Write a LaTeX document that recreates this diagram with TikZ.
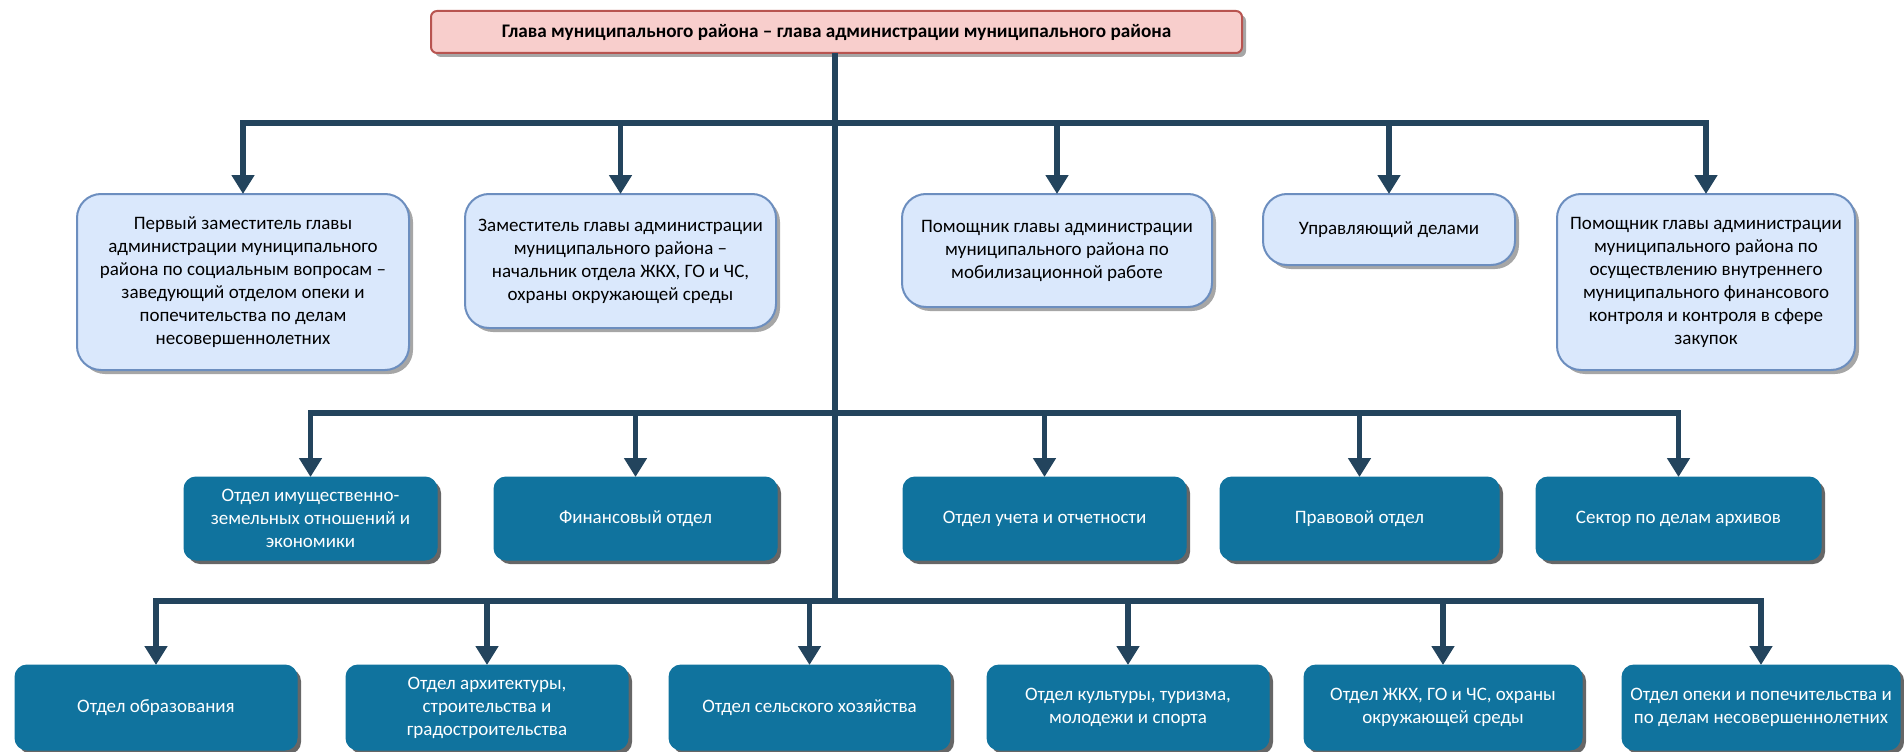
\documentclass[tikz,border=0pt]{standalone}
\usepackage{fontspec}
\setmainfont{Carlito}
\usetikzlibrary{arrows.meta,shadows}
\definecolor{conncol}{HTML}{23445D}
\definecolor{topfill}{HTML}{F8CECC}
\definecolor{topdraw}{HTML}{B85450}
\definecolor{lbfill}{HTML}{DAE8FC}
\definecolor{lbdraw}{HTML}{6C8EBF}
\definecolor{tealfill}{HTML}{10739E}
\begin{document}
\begin{tikzpicture}[x=1pt,y=-1pt,
  box/.style={rectangle, outer sep=0pt, inner sep=0pt, align=center,
    font=\fontsize{19}{23}\selectfont},
  topbox/.style={box, rounded corners=6pt, fill=topfill, draw=topdraw, line width=2pt,
    font=\fontsize{19.2}{23}\selectfont\bfseries,
    drop shadow={shadow xshift=4pt, shadow yshift=-4pt, fill=black, opacity=.35}},
  lbox/.style={box, rounded corners=24pt, fill=lbfill, draw=lbdraw, line width=2pt,
    drop shadow={shadow xshift=4pt, shadow yshift=-4pt, fill=black, opacity=.35}},
  tbox/.style={box, rounded corners=12pt, fill=tealfill, draw=tealfill, line width=1pt,
    text=white,
    drop shadow={shadow xshift=4pt, shadow yshift=-4pt, fill=black, opacity=.6}},
  conn/.style={draw=conncol, line width=5.5pt},
  bus/.style={conn, line cap=rect},
  arr/.style={conn, -{Triangle[width=22pt,length=19pt]}}
]
\useasboundingbox (0,0) rectangle (1904,752);

% top
\node[topbox, minimum width=811pt, minimum height=42pt] (top) at (836.5,32)
  {Глава муниципального района – глава администрации муниципального района};

% level 1
\node[lbox, minimum width=332pt, minimum height=176pt] (b1) at (243,282)
  {Первый заместитель главы\\администрации муниципального\\района по социальным вопросам –\\заведующий отделом опеки и\\попечительства по делам\\несовершеннолетних};
\node[lbox, minimum width=311pt, minimum height=134pt] (b2) at (620.5,261)
  {Заместитель главы администрации\\муниципального района –\\начальник отдела ЖКХ, ГО и ЧС,\\охраны окружающей среды};
\node[lbox, minimum width=310pt, minimum height=113pt] (b3) at (1057,250.5)
  {Помощник главы администрации\\муниципального района по\\мобилизационной работе};
\node[lbox, minimum width=252pt, minimum height=71pt] (b4) at (1389,229.5)
  {Управляющий делами};
\node[lbox, minimum width=298pt, minimum height=176pt] (b5) at (1706,282)
  {Помощник главы администрации\\муниципального района по\\осуществлению внутреннего\\муниципального финансового\\контроля и контроля в сфере\\закупок};

% level 2
\node[tbox, minimum width=253pt, minimum height=83pt] (c1) at (310.5,518.5)
  {Отдел имущественно-\\земельных отношений и\\экономики};
\node[tbox, minimum width=283pt, minimum height=83pt] (c2) at (635.5,518.5)
  {Финансовый отдел};
\node[tbox, minimum width=283pt, minimum height=83pt] (c3) at (1044.5,518.5)
  {Отдел учета и отчетности};
\node[tbox, minimum width=279pt, minimum height=83pt] (c4) at (1359.5,518.5)
  {Правовой отдел};
\node[tbox, minimum width=285pt, minimum height=83pt] (c5) at (1678.5,518.5)
  {Сектор по делам архивов};

% level 3
\node[tbox, minimum width=282pt, minimum height=85pt] (d1) at (156,707.5)
  {Отдел образования};
\node[tbox, minimum width=282pt, minimum height=85pt] (d2) at (487,707.5)
  {Отдел архитектуры,\\строительства и\\градостроительства};
\node[tbox, minimum width=281pt, minimum height=85pt] (d3) at (809.5,707.5)
  {Отдел сельского хозяйства};
\node[tbox, minimum width=282pt, minimum height=85pt] (d4) at (1128,707.5)
  {Отдел культуры, туризма,\\молодежи и спорта};
\node[tbox, minimum width=278pt, minimum height=85pt] (d5) at (1443,707.5)
  {Отдел ЖКХ, ГО и ЧС, охраны\\окружающей среды};
\node[tbox, minimum width=278pt, minimum height=85pt] (d6) at (1761,707.5)
  {Отдел опеки и попечительства и\\по делам несовершеннолетних};

% junctions
\coordinate (j1) at (835,123);
\coordinate (j2) at (835,413);
\coordinate (j3) at (835,601);

% trunk
\draw[conn] (top.south -| j1) -- (j3);

% buses
\draw[bus] (b1.north |- j1) -- (b5.north |- j1);
\draw[bus] (c1.north |- j2) -- (c5.north |- j2);
\draw[bus] (d1.north |- j3) -- (d6.north |- j3);

% arrows
\foreach \n in {b1,b2,b3,b4,b5} \draw[arr] (\n.north |- j1) -- (\n.north);
\foreach \n in {c1,c2,c3,c4,c5} \draw[arr] (\n.north |- j2) -- (\n.north);
\foreach \n in {d1,d2,d3,d4,d5,d6} \draw[arr] (\n.north |- j3) -- (\n.north);
\end{tikzpicture}
\end{document}
